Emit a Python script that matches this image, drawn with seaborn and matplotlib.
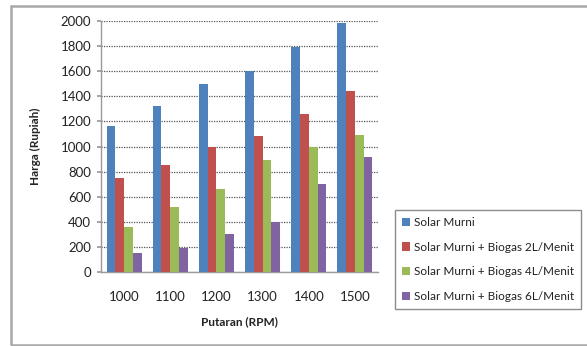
import numpy as np
import pandas as pd
import matplotlib
matplotlib.use("Agg")
import matplotlib.pyplot as plt
import seaborn as sns
from matplotlib.patches import Rectangle

# Engine speed (RPM) categories
putaran = ["1000", "1100", "1200", "1300", "1400", "1500"]

# Fuel cost (Rupiah) per fuel mixture
solar_murni = [1160, 1325, 1500, 1605, 1790, 1985]
biogas_2l = [750, 850, 1000, 1085, 1255, 1440]
biogas_4l = [355, 515, 665, 890, 1000, 1090]
biogas_6l = [150, 195, 305, 400, 700, 915]

series_names = [
    "Solar Murni",
    "Solar Murni + Biogas 2L/Menit",
    "Solar Murni + Biogas 4L/Menit",
    "Solar Murni + Biogas 6L/Menit",
]
series_values = [solar_murni, biogas_2l, biogas_4l, biogas_6l]
colors = ["#4F81BD", "#C0504D", "#9BBB59", "#8064A2"]

df = pd.DataFrame(
    [(p, name, v)
     for name, vals in zip(series_names, series_values)
     for p, v in zip(putaran, vals)],
    columns=["Putaran", "Seri", "Harga"],
)

sns.set_theme(style="white")
plt.rcParams["font.family"] = ["Lato", "DejaVu Sans"]

W, H = 587, 346
fig = plt.figure(figsize=(W / 100, H / 100), dpi=100)
fig.patch.set_facecolor("white")

# outer chart frame
fig.patches.append(Rectangle((11 / W, 1 / H), 1.2, 339 / H,
                             transform=fig.transFigure, fill=False,
                             edgecolor="#A8A8A8", linewidth=1.8, zorder=0))

ax = fig.add_axes([101 / W, 1 - 272 / H, 277 / W, 251 / H])
sns.barplot(data=df, x="Putaran", y="Harga", hue="Seri",
            palette=colors, width=0.76, saturation=1, ax=ax,
            edgecolor="none", linewidth=0, zorder=3)

ax.set_ylim(0, 2000)
ax.set_yticks(np.arange(0, 2001, 200))
ax.yaxis.grid(True, linestyle=(0, (1, 1)), color="#555555", linewidth=0.9, zorder=0)
ax.set_axisbelow(True)
for side in ["top", "right"]:
    ax.spines[side].set_visible(False)
for side in ["left", "bottom"]:
    ax.spines[side].set_color("#9A9A9A")
    ax.spines[side].set_linewidth(1.0)

ax.tick_params(axis="y", labelsize=9.5, length=3, color="#9A9A9A",
               left=True, pad=4)
ax.tick_params(axis="x", labelsize=9.5, length=0, pad=14)
for lbl in ax.get_xticklabels() + ax.get_yticklabels():
    lbl.set_color("#222222")

ax.set_xlabel("Putaran (RPM)", fontsize=8.5, fontweight="bold", labelpad=9, color="#222222")
ax.set_ylabel("Harga (Rupiah)", fontsize=8.5, fontweight="bold", labelpad=14, color="#222222")

leg = ax.legend(loc="upper left", bbox_to_anchor=(395 / W, 1 - 210 / H),
                bbox_transform=fig.transFigure, frameon=True, fontsize=8.5,
                handlelength=0.7, handleheight=0.7, handletextpad=0.3,
                labelspacing=1.15, borderpad=0.6, borderaxespad=0, fancybox=False)
leg.get_frame().set_edgecolor("#707070")
leg.get_frame().set_linewidth(1.0)
for t in leg.get_texts():
    t.set_color("#222222")

fig.savefig("out.png", dpi=100, facecolor="white")
